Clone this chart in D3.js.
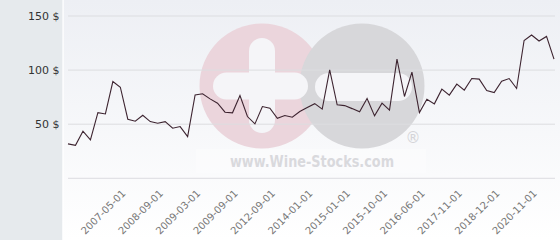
<!DOCTYPE html>
<html>
<head>
<meta charset="utf-8">
<script src="https://cdn.jsdelivr.net/npm/d3@7/dist/d3.min.js"></script>
<style>
  html, body { margin: 0; padding: 0; background: #ffffff; }
  svg { display: block; font-family: "DejaVu Sans", sans-serif; }
</style>
</head>
<body>
<svg id="chart" width="560" height="240"></svg>
<script>
// ---- data ----
const prices = [31.8, 30.5, 43.5, 35.5, 60.7, 59.5, 89.4, 84.2, 54.6, 52.8,
  58.3, 52.4, 50.9, 52.4, 46.3, 47.8, 38.5, 77.1, 78.1, 73.4,
  69.4, 61.1, 60.5, 76.5, 57.1, 50.3, 66.3, 64.8, 55.5, 58.0,
  56.5, 61.7, 65.4, 69.0, 63.9, 100.3, 67.9, 67.2, 64.4, 61.4,
  73.7, 57.7, 69.4, 63.0, 110.2, 75.6, 98.1, 60.7, 73.1, 68.8,
  82.4, 76.9, 87.0, 81.5, 92.2, 91.7, 81.1, 79.3, 89.8, 92.2,
  83.0, 127.4, 132.4, 126.9, 131.1, 110.2];
const tickLabels = ["2007-05-01", "2008-09-01", "2009-03-01", "2009-09-01",
  "2012-09-01", "2014-01-01", "2015-01-01", "2015-10-01", "2016-06-01",
  "2017-11-01", "2018-12-01", "2020-11-01"];
const tickIndex = [7, 12, 17, 22, 27, 32, 37, 42, 47, 52, 57, 62];
const yTicks = [50, 100, 150];
const gridValues = [0, 50, 100, 150];

// ---- layout ----
const W = 560, H = 240;
const plotLeft = 68, plotRight = 554, plotTop = 16, plotBottom = 178.3;

const svg = d3.select("#chart");
const defs = svg.append("defs");
const grad = defs.append("linearGradient").attr("id", "bg").attr("x1", 0).attr("y1", 0).attr("x2", 0).attr("y2", 1);
grad.append("stop").attr("offset", "0%").attr("stop-color", "#edeff4");
grad.append("stop").attr("offset", "100%").attr("stop-color", "#ffffff");

// backgrounds
svg.append("rect").attr("x", 0).attr("y", 0).attr("width", W).attr("height", H).attr("fill", "url(#bg)");
svg.append("rect").attr("x", 0).attr("y", 0).attr("width", 62.5).attr("height", H).attr("fill", "#e6eaed");
svg.append("rect").attr("x", 62.5).attr("y", 0).attr("width", 1.2).attr("height", H).attr("fill", "#ffffff");

// watermark
const wm = svg.append("g").attr("class", "watermark");
wm.append("circle").attr("cx", 262).attr("cy", 86).attr("r", 62.5).attr("fill", "#ebd5dc");
wm.append("circle").attr("cx", 362).attr("cy", 86).attr("r", 62.5).attr("fill", "#d7d7da");
wm.append("rect").attr("x", 249).attr("y", 38).attr("width", 26).attr("height", 95).attr("rx", 13).attr("fill", "#f5f5f8");
wm.append("rect").attr("x", 213).attr("y", 72.5).attr("width", 95).attr("height", 27).attr("rx", 13.5).attr("fill", "#f5f5f8");
wm.append("rect").attr("x", 315).attr("y", 73).attr("width", 97).attr("height", 28).attr("rx", 14).attr("fill", "#f5f5f8");
wm.append("rect").attr("x", 196).attr("y", 149).attr("width", 230).attr("height", 24).attr("fill", "#ffffff").attr("opacity", 0.3);
wm.append("text").attr("x", 312).attr("y", 166.5).attr("text-anchor", "middle")
  .attr("font-size", 16.5).attr("font-weight", "bold").attr("fill", "#d9d9dd")
  .attr("textLength", 164).attr("lengthAdjust", "spacingAndGlyphs")
  .text("www.Wine-Stocks.com");
wm.append("text").attr("x", 413).attr("y", 143).attr("text-anchor", "middle")
  .attr("font-size", 15).attr("fill", "#d4d4d8").text("®");

// scales
const x = d3.scalePoint().domain(d3.range(prices.length)).range([plotLeft, plotRight]);
const y = d3.scaleLinear().domain([0, 150]).range([plotBottom, plotTop]);

// grid
svg.append("g").selectAll("line").data(gridValues).join("line")
  .attr("x1", plotLeft).attr("x2", plotRight + 1)
  .attr("y1", d => y(d)).attr("y2", d => y(d))
  .attr("stroke", "#dcdde0").attr("stroke-width", 1);

// y axis
const yAxis = svg.append("g").attr("transform", `translate(${59.5},0)`)
  .call(d3.axisLeft(y).tickValues(yTicks).tickSize(0).tickPadding(0).tickFormat(d => d + " $"));
yAxis.select(".domain").remove();
yAxis.selectAll("text").attr("font-size", 11).attr("fill", "#333").attr("font-family", "DejaVu Sans, sans-serif");

// x axis labels
const xl = svg.append("g");
xl.selectAll("text").data(tickIndex).join("text")
  .attr("transform", (d) => `translate(${x(d) + 6},${194}) rotate(-45)`)
  .attr("text-anchor", "end")
  .attr("font-size", 10).attr("fill", "#777")
  .text((d, i) => tickLabels[i]);

// line
const line = d3.line().x((d, i) => x(i)).y(d => y(d));
svg.append("path").datum(prices).attr("d", line)
  .attr("fill", "none").attr("stroke", "#3d2430").attr("stroke-width", 1.1)
  .attr("stroke-linejoin", "miter");
</script>
</body>
</html>
